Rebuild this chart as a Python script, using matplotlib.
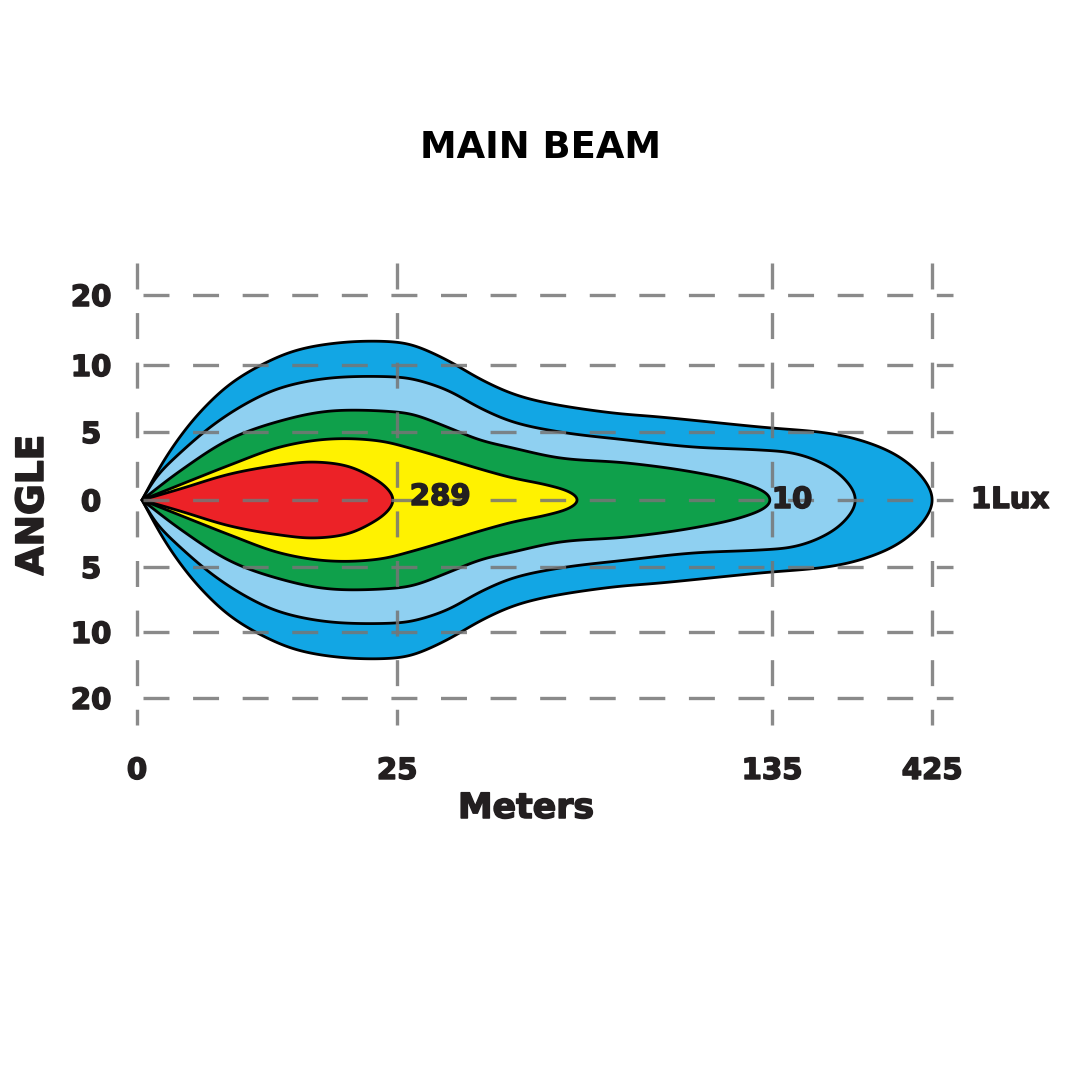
import numpy as np
import matplotlib
matplotlib.use("Agg")
import matplotlib.pyplot as plt
from matplotlib.patches import Polygon
import matplotlib.patheffects as pe

# ---------------- data ----------------
TITLE = "MAIN BEAM"
X_LABEL = "Meters"
Y_LABEL = "ANGLE"

# x tick positions (chart units) and their distance labels
X_TICK_POS = [0, 260, 635, 795]
X_TICK_LABELS = ["0", "25", "135", "425"]
# y tick positions (chart units) and their angle labels
Y_TICK_POS = [205, 135, 68, 0, -67, -132, -198]
Y_TICK_LABELS = ["20", "10", "5", "0", "5", "10", "20"]

# isolux contours: distance along chart (x) and half width (y)
OUTER_X = [5, 26, 45, 65, 93, 126, 160, 210, 260, 276, 310, 343, 376, 410, 476, 523, 623, 690, 723, 756, 776, 790, 797]
OUTER_H = [0, 38, 66, 90, 116, 136, 150, 158, 158, 155, 140, 121, 106, 97, 87, 83, 73, 67, 60, 47, 33, 17, 0]

LIGHT_X = [5, 20, 43, 76, 110, 143, 193, 260, 276, 310, 343, 376, 423, 490, 556, 623, 656, 683, 706, 720]
LIGHT_H = [0, 24, 47, 75, 97, 112, 122, 123, 121, 110, 92, 78, 68, 60, 53, 50, 47, 38, 23, 0]

GREEN_X = [5, 43, 93, 143, 193, 260, 278, 310, 343, 376, 423, 490, 556, 606, 630, 636]
GREEN_H = [0, 29, 61, 79, 89, 88, 85, 73, 60, 52, 42, 37, 28, 17, 7, 0]

YELLOW_X = [5, 60, 93, 143, 193, 243, 276, 310, 343, 376, 410, 433, 443]
YELLOW_H = [0, 22, 35, 53, 61, 59, 51, 41, 31, 22, 15, 8, 0]

RED_X = [5, 43, 93, 143, 176, 210, 233, 250, 257]
RED_H = [0, 11, 26, 35, 38, 34, 24, 12, 0]

# value labels
VALUE_LABELS = ["289", "10", "1Lux"]
VALUE_X = [303, 655, 873]
VALUE_Y = [3, 0, 0]

COLORS = ["#12a6e4", "#8fd0f1", "#0fa04b", "#fff200", "#ec2227"]
SMOOTH = [9, 8, 7, 6, 5]

# ---------------- helpers ----------------
def catmull_rom(points, n=24, alpha=0.5):
    P = np.asarray(points, float)
    P = np.vstack([2 * P[0] - P[1], P, 2 * P[-1] - P[-2]])
    out = []
    for i in range(1, len(P) - 2):
        p0, p1, p2, p3 = P[i - 1], P[i], P[i + 1], P[i + 2]
        t0 = 0.0
        t1 = t0 + np.linalg.norm(p1 - p0) ** alpha
        t2 = t1 + np.linalg.norm(p2 - p1) ** alpha
        t3 = t2 + np.linalg.norm(p3 - p2) ** alpha
        t = np.linspace(t1, t2, n, endpoint=False)[:, None]
        A1 = (t1 - t) / (t1 - t0) * p0 + (t - t0) / (t1 - t0) * p1
        A2 = (t2 - t) / (t2 - t1) * p1 + (t - t1) / (t2 - t1) * p2
        A3 = (t3 - t) / (t3 - t2) * p2 + (t - t2) / (t3 - t2) * p3
        B1 = (t2 - t) / (t2 - t0) * A1 + (t - t0) / (t2 - t0) * A2
        B2 = (t3 - t) / (t3 - t1) * A2 + (t - t1) / (t3 - t1) * A3
        C = (t2 - t) / (t2 - t1) * B1 + (t - t1) / (t2 - t1) * B2
        out.append(C)
    out.append(P[-2][None, :])
    return np.vstack(out)


def smooth_path(P, sigma, step=1.0):
    d = np.sqrt((np.diff(P, axis=0) ** 2).sum(1))
    s = np.concatenate([[0], np.cumsum(d)])
    ss = np.append(np.arange(0, s[-1], step), s[-1])
    R = np.column_stack([np.interp(ss, s, P[:, 0]), np.interp(ss, s, P[:, 1])])
    k = int(3 * sigma / step)
    k = min(k, len(R) - 2)
    pad0 = 2 * R[0] - R[1:k + 1][::-1]
    pad1 = 2 * R[-1] - R[-k - 1:-1][::-1]
    Q = np.vstack([pad0, R, pad1])
    w = np.exp(-0.5 * (np.arange(-k, k + 1) * step / sigma) ** 2)
    w /= w.sum()
    return np.column_stack([np.convolve(Q[:, 0], w, mode="valid"),
                            np.convolve(Q[:, 1], w, mode="valid")])


def outline(xs, hs, sigma):
    xs = list(xs)
    hs = list(hs)
    top = list(zip(xs, hs))
    bottom = list(zip(xs[::-1][1:], [-h for h in hs[::-1][1:]]))
    return smooth_path(catmull_rom(top + bottom), sigma)


# ---------------- figure ----------------
plt.rcParams["font.family"] = ["DejaVu Sans"]
plt.rcParams["font.weight"] = "bold"
plt.rcParams["lines.scale_dashes"] = False

TXT = "#231f20"
heavy = [pe.withStroke(linewidth=1.1, foreground=TXT)]

fig = plt.figure(figsize=(10.8, 10.8), dpi=100)
fig.patch.set_facecolor("white")
ax = fig.add_axes([117 / 1080, (1080 - 745) / 1080, 860 / 1080, 495 / 1080])
ax.set_xlim(-20, 840)
ax.set_ylim(-245, 250)
for s in ax.spines.values():
    s.set_visible(False)
ax.set_facecolor("none")

profiles = [(OUTER_X, OUTER_H), (LIGHT_X, LIGHT_H), (GREEN_X, GREEN_H),
            (YELLOW_X, YELLOW_H), (RED_X, RED_H)]
for (xs, hs), col, sg in zip(profiles, COLORS, SMOOTH):
    pts = outline(xs, hs, sg)
    ax.add_patch(Polygon(pts, closed=True, facecolor=col, edgecolor="black",
                         linewidth=2.0, joinstyle="round", zorder=2))

# dashed grid
dash = (0, (18.7, 17.0))
grid_kw = dict(color="#767676", linewidth=2.4, linestyle=dash, alpha=0.85,
               zorder=3, dash_capstyle="butt")
for x in X_TICK_POS:
    ax.plot([x, x], [237, -225], **grid_kw)
for y in Y_TICK_POS:
    ax.plot([6, 816], [y, y], **grid_kw)

# value labels
for lab, x, y in zip(VALUE_LABELS, VALUE_X, VALUE_Y):
    ax.text(x, y, lab, ha="center", va="center", fontsize=21,
            fontweight="bold", color=TXT, zorder=4, clip_on=False,
            path_effects=heavy)

# ticks
ax.set_xticks(X_TICK_POS, X_TICK_LABELS)
ax.set_yticks(Y_TICK_POS, Y_TICK_LABELS)
ax.tick_params(axis="both", length=0, labelsize=21, labelcolor=TXT)
ax.tick_params(axis="x", pad=8.6)
ax.tick_params(axis="y", pad=18.7)
for lbl in ax.get_yticklabels():
    lbl.set_horizontalalignment("center")
    lbl.set_fontweight("bold")
    lbl.set_path_effects(heavy)
for lbl in ax.get_xticklabels():
    lbl.set_fontweight("bold")
    lbl.set_path_effects(heavy)

ax.set_xlabel(X_LABEL, fontsize=25, fontweight="bold", color=TXT,
              path_effects=heavy)
ax.xaxis.label.set_va("center")
ax.xaxis.set_label_coords((526 - 117) / 860, (745 - 808) / 495)
ax.set_ylabel(Y_LABEL, fontsize=27, fontweight="bold", color=TXT,
              path_effects=heavy)
ax.yaxis.label.set_va("center")
ax.yaxis.set_label_coords((33 - 117) / 860, (745 - 505) / 495)

fig.text(0.5, 1 - 148 / 1080, TITLE, ha="center", va="center",
         fontsize=26.6, fontweight="bold", color="black")

fig.savefig("out.png", dpi=100, facecolor="white")
